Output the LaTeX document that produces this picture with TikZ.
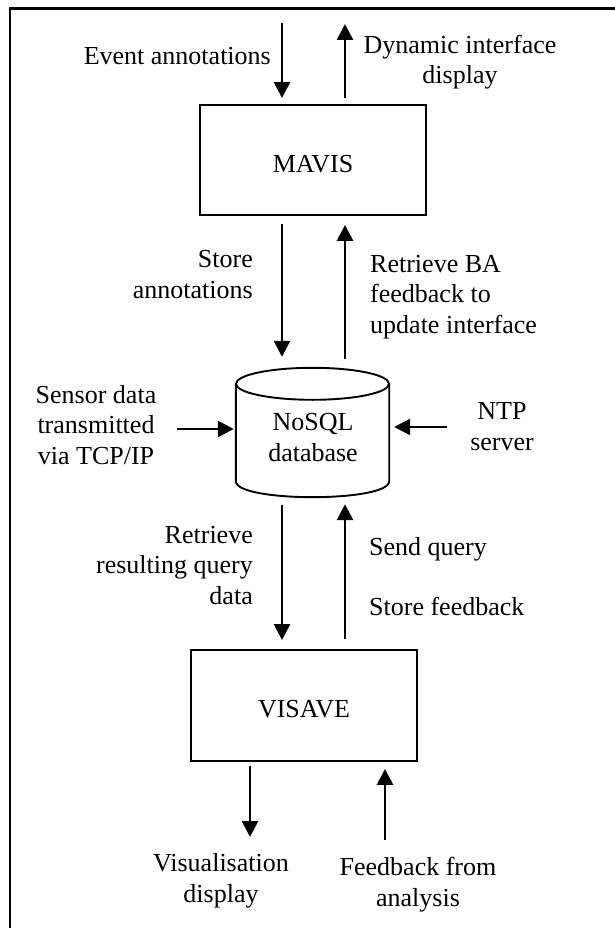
\documentclass[tikz,border=0pt]{standalone}
\usepackage{fontspec}
\setmainfont{Liberation Serif}
\usetikzlibrary{arrows.meta,calc}
\begin{document}
\begin{tikzpicture}[x=1pt,y=-1pt,
  every node/.style={font=\fontsize{26}{30.5}\selectfont, inner sep=0pt},
  procbox/.style={draw, line width=1.9pt, minimum width=226pt, text height=24pt, text depth=0pt},
  arr/.style={line width=2.7pt, -{Triangle[length=16pt,width=16pt]}},
  labR/.style={anchor=base east, align=right},
  labL/.style={anchor=base west, align=left},
  labC/.style={anchor=base, align=center}]
\useasboundingbox (0,0) rectangle (615,928);
% frame (only top and left edges lie in the picture)
\draw[line width=2.5pt] (10,940) -- (10,8.3) -- (630,8.3);

% main boxes
\node[procbox, minimum height=110pt] (mavis) at (313,160) {MAVIS};
\node[procbox, minimum height=111pt] (visave) at (304,705.5) {VISAVE};

% database cylinder
\node[minimum width=153pt, minimum height=129pt] (db) at (312.5,432.5) {};
\draw[line width=1.9pt] ($(db.north)+(0,16)$) ellipse [x radius=76.5, y radius=16];
\draw[line width=1.9pt] ($(db.north west)+(0,16)$) -- ($(db.south west)+(0,-16)$)
  .. controls ($(db.south west)+(0,5.3)$) and ($(db.south east)+(0,5.3)$) ..
  ($(db.south east)+(0,-16)$) -- ($(db.north east)+(0,16)$);
\node[labC] (dbtext) at (313,461) {NoSQL\\database};

% columns and free ends
\coordinate (colL) at (282,0);
\coordinate (colR) at (345,0);
\coordinate (evin) at (282,23);
\coordinate (dynout) at (345,24);
\coordinate (sensin) at (177,429);
\coordinate (ntpin) at (447,427);
\coordinate (visout) at (250,837);
\coordinate (fbin) at (385,840);

% connectors
\draw[arr, shorten >=6pt] (evin) -- (mavis.north -| evin);
\draw[arr, shorten <=6pt] (mavis.north -| dynout) -- (dynout);
\draw[arr, shorten <=8pt, shorten >=11pt] (mavis.south -| colL) -- (db.north -| colL);
\draw[arr, shorten <=9pt, shorten >=9pt] (db.north -| colR) -- (mavis.south -| colR);
\draw[arr, shorten >=2pt] (sensin) -- (sensin -| db.west);
\draw[arr, shorten >=5pt] (ntpin) -- (ntpin -| db.east);
\draw[arr, shorten <=8pt, shorten >=9pt] (db.south -| colL) -- (visave.north -| colL);
\draw[arr, shorten <=10pt, shorten >=7pt] (visave.north -| colR) -- (db.south -| colR);
\draw[arr, shorten <=4pt] (visave.south -| visout) -- (visout);
\draw[arr, shorten >=7pt] (fbin) -- (visave.south -| fbin);

% labels (multi-line nodes: base = baseline of last line)
\node[anchor=base east] (l1) at (271,65) {Event annotations};
\node[labC] (l2) at (460,84) {Dynamic interface\\display};
\node[labR] (l3) at (253,298) {Store\\annotations};
\node[labL] (l4) at (370,333) {Retrieve BA\\feedback to\\update interface};
\node[labC] (l5) at (96,464) {Sensor data\\transmitted\\via TCP/IP};
\node[labC] (l6) at (502,450) {NTP\\server};
\node[labR] (l7) at (253,604) {Retrieve\\resulting query\\data};
\node[anchor=base west] (l8) at (369,555) {Send query};
\node[anchor=base west] (l9) at (369,615) {Store feedback};
\node[labC] (l10) at (221,902) {Visualisation\\display};
\node[labC] (l11) at (418,906) {Feedback from\\analysis};
\end{tikzpicture}
\end{document}
